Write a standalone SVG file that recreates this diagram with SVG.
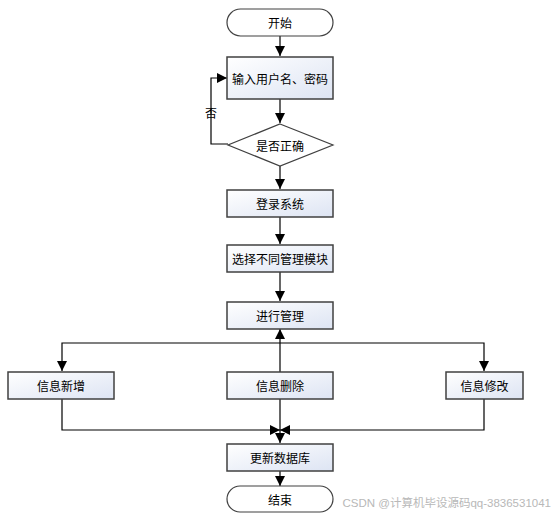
<svg xmlns="http://www.w3.org/2000/svg" width="555" height="515" viewBox="0 0 555 515">
<defs>
<linearGradient id="g" x1="0" y1="0" x2="1" y2="1">
<stop offset="0" stop-color="#ffffff"/>
<stop offset="1" stop-color="#dde4f3"/>
</linearGradient>
<marker id="a" viewBox="0 0 10 10" refX="10" refY="5" markerWidth="10" markerHeight="10" markerUnits="userSpaceOnUse" orient="auto">
<path d="M0,0 L10,5 L0,10 Z" fill="#000"/>
</marker>
</defs>
<style>
.box{fill:url(#g);stroke:#404040;stroke-width:1.5}
.term{fill:#fff;stroke:#404040;stroke-width:1.2}
.t{font-family:"Noto Sans CJK SC","Liberation Sans",sans-serif;font-size:12px;fill:#000;text-anchor:middle;dominant-baseline:central}
.c{fill:none;stroke:#000;stroke-width:1.2}
</style>
<rect width="555" height="515" fill="#fff"/>
<g id="connectors">
<path class="c" d="M280,36 V56" marker-end="url(#a)"/>
<path class="c" d="M280,99 V123" marker-end="url(#a)"/>
<path class="c" d="M228,144 H211 V78 H227" marker-end="url(#a)"/>
<path class="c" d="M280,166 V189" marker-end="url(#a)"/>
<path class="c" d="M280,217 V244" marker-end="url(#a)"/>
<path class="c" d="M280,272 V301" marker-end="url(#a)"/>
<path class="c" d="M280,372 V329" marker-end="url(#a)"/>
<path class="c" d="M280,343 H62 V371" marker-end="url(#a)"/>
<path class="c" d="M280,343 H484 V371" marker-end="url(#a)"/>
<path class="c" d="M62,399 V430 H280" marker-end="url(#a)"/>
<path class="c" d="M484,399 V430 H280" marker-end="url(#a)"/>
<path class="c" d="M280,399 V443" marker-end="url(#a)"/>
<path class="c" d="M280,471 V486" marker-end="url(#a)"/>
</g>
<g id="start"><rect class="term" x="227" y="9" width="106" height="27" rx="13.5"/><text class="t" x="280" y="22.5">开始</text></g>
<g id="input"><rect class="box" x="227" y="57" width="106" height="42"/><text class="t" x="280" y="78">输入用户名、密码</text></g>
<g id="no-label"><text class="t" x="211" y="112">否</text></g>
<g id="check"><polygon class="term" points="280,124 333,145 280,166 228,145"/><text class="t" x="280" y="145">是否正确</text></g>
<g id="login"><rect class="box" x="227" y="190" width="106" height="27"/><text class="t" x="280" y="203.5">登录系统</text></g>
<g id="select"><rect class="box" x="227" y="245" width="106" height="27"/><text class="t" x="280" y="258.5">选择不同管理模块</text></g>
<g id="manage"><rect class="box" x="227" y="302" width="106" height="27"/><text class="t" x="280" y="315.5">进行管理</text></g>
<g id="add"><rect class="box" x="8" y="372" width="106" height="27"/><text class="t" x="61" y="385.5">信息新增</text></g>
<g id="delete"><rect class="box" x="227" y="372" width="106" height="27"/><text class="t" x="280" y="385.5">信息删除</text></g>
<g id="modify"><rect class="box" x="446" y="372" width="77" height="27"/><text class="t" x="484.5" y="385.5">信息修改</text></g>
<g id="update"><rect class="box" x="227" y="444" width="106" height="27"/><text class="t" x="280" y="457.5">更新数据库</text></g>
<g id="end"><rect class="term" x="227" y="486" width="106" height="26" rx="13"/><text class="t" x="280" y="499">结束</text></g>
<text x="551" y="507" font-family="'Liberation Sans','Noto Sans CJK SC',sans-serif" font-size="11.5" fill="#b8b8b8" text-anchor="end">CSDN @计算机毕设源码qq-3836531041</text>
</svg>
